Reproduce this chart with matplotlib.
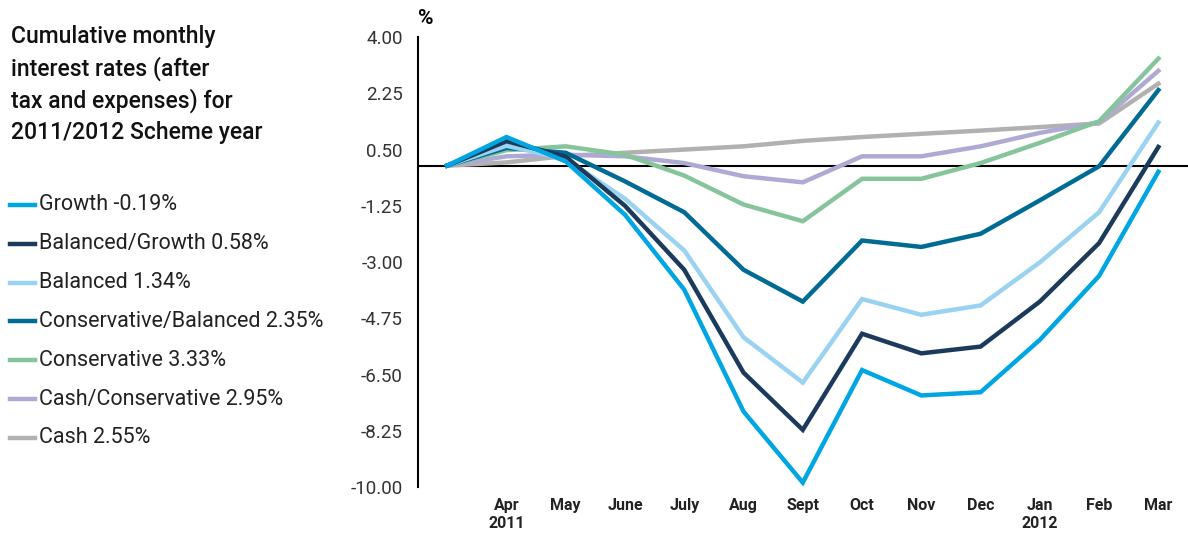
import matplotlib.pyplot as plt
from matplotlib.lines import Line2D

plt.rcParams['font.family'] = ['Roboto', 'DejaVu Sans']

# Month labels (first point is the opening balance at zero)
months = ["", "Apr\n2011", "May", "June", "July", "Aug", "Sept", "Oct",
          "Nov", "Dec", "Jan\n2012", "Feb", "Mar"]

growth = [0, 0.89, 0.13, -1.53, -3.86, -7.65, -9.86, -6.36, -7.15, -7.05, -5.42, -3.43, -0.19]
balanced_growth = [0, 0.76, 0.28, -1.25, -3.24, -6.44, -8.22, -5.23, -5.84, -5.63, -4.23, -2.41, 0.58]
balanced = [0, 0.62, 0.20, -1.03, -2.64, -5.34, -6.75, -4.15, -4.64, -4.35, -3.01, -1.45, 1.34]
conservative_balanced = [0, 0.55, 0.40, -0.49, -1.45, -3.24, -4.23, -2.33, -2.53, -2.12, -1.08, -0.02, 2.35]
conservative = [0, 0.48, 0.60, 0.34, -0.31, -1.21, -1.73, -0.41, -0.41, 0.08, 0.71, 1.38, 3.33]
cash_conservative = [0, 0.29, 0.34, 0.29, 0.08, -0.33, -0.52, 0.29, 0.29, 0.60, 1.02, 1.35, 2.95]
cash = [0, 0.10, 0.30, 0.40, 0.50, 0.60, 0.77, 0.89, 0.99, 1.09, 1.20, 1.31, 2.55]

names = ["Growth -0.19%", "Balanced/Growth 0.58%", "Balanced 1.34%",
         "Conservative/Balanced 2.35%", "Conservative 3.33%",
         "Cash/Conservative 2.95%", "Cash 2.55%"]
series = [growth, balanced_growth, balanced, conservative_balanced,
          conservative, cash_conservative, cash]
colors = ["#00a6e2", "#1b3a5c", "#9ad2f1", "#006b93", "#86c49b", "#aeaad4", "#b1b1b1"]

yticks = [4.00, 2.25, 0.50, -1.25, -3.00, -4.75, -6.50, -8.25, -10.00]

W, H = 1188, 537
fig = plt.figure(figsize=(W / 100, H / 100), dpi=100)
ax = fig.add_axes([0.352, 0.093, 0.648, 0.838])

x = list(range(len(months)))
# draw Cash first so Growth ends up on top
for vals, col in reversed(list(zip(series, colors))):
    ax.plot(x, vals, color=col, lw=3.2, solid_joinstyle='miter', zorder=3)

ax.axhline(0, color="black", lw=1.5, zorder=2)

ax.set_xlim(-0.49, 12.5)
ax.set_ylim(-10, 4)
ax.set_yticks(yticks)
ax.set_yticklabels([f"{v:.2f}" for v in yticks], fontsize=13.5, color="#333333")
ax.set_xticks(x)
ax.set_xticklabels(months, fontsize=11.5, fontweight="bold", color="#222222")
ax.tick_params(axis="both", length=0)
ax.tick_params(axis="y", pad=11)
ax.tick_params(axis="x", pad=8)

for s in ["top", "right", "bottom"]:
    ax.spines[s].set_visible(False)
ax.spines["left"].set_linewidth(1.5)

fig.text(418 / W, 1 - 19 / H, "%", fontsize=15, fontweight="bold", ha="left", va="center")

title_lines = ["Cumulative monthly", "interest rates (after",
               "tax and expenses) for", "2011/2012 Scheme year"]
for i, line in enumerate(title_lines):
    fig.text(11 / W, 1 - (36 + i * 32.3) / H, line, fontsize=16.5, fontweight="medium",
             ha="left", va="center", color="#111111")

# legend entries drawn by hand: short coloured dash + label
for i, (name, col) in enumerate(zip(names, colors)):
    yy = 1 - (205 + i * 38.8) / H
    fig.add_artist(Line2D([10 / W, 35 / W], [yy, yy], color=col, lw=3.2,
                          transform=fig.transFigure))
    fig.text(39 / W, yy, name, fontsize=15.5, ha="left", va="center", color="#222222")

fig.savefig("out.png", dpi=100)
